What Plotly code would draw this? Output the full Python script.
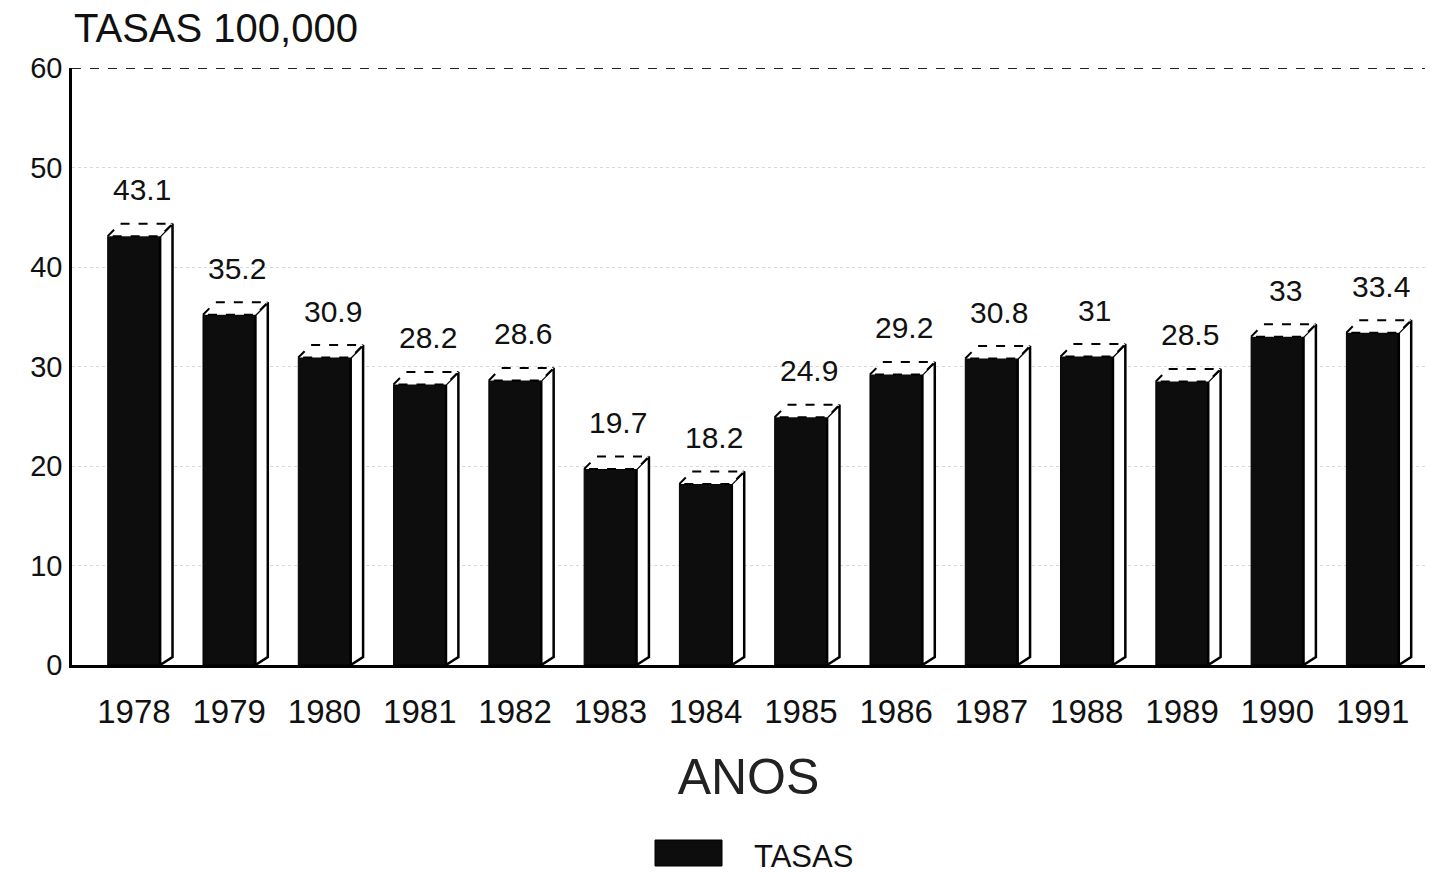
import plotly.graph_objects as go

# Tasas por 100,000 habitantes, 1978-1991
years = ["1978", "1979", "1980", "1981", "1982", "1983", "1984",
         "1985", "1986", "1987", "1988", "1989", "1990", "1991"]
rates = [43.1, 35.2, 30.9, 28.2, 28.6, 19.7, 18.2,
         24.9, 29.2, 30.8, 31, 28.5, 33, 33.4]
y_ticks = [0, 10, 20, 30, 40, 50, 60]

FONT = "Liberation Sans, Arial, sans-serif"
BAR_W = 0.55      # front face width (category units)
DEPTH_X = 0.13    # 3D side-face depth, horizontal (category units)
DEPTH_Y = 1.25    # 3D side-face depth, vertical (value units)

xs = list(range(len(years)))

fig = go.Figure()

# front faces
fig.add_trace(go.Bar(
    x=xs, y=rates, width=BAR_W,
    marker=dict(color="#0d0d0d", line=dict(color="#000", width=1)),
    hoverinfo="skip", showlegend=False,
))

# white side and top faces that give the bars depth
for x, v in zip(xs, rates):
    xl, xr = x - BAR_W / 2, x + BAR_W / 2
    side_x = [xr, xr + DEPTH_X, xr + DEPTH_X, xr, xr]
    side_y = [0, 0.8, v + DEPTH_Y, v, 0]
    fig.add_trace(go.Scatter(
        x=side_x, y=side_y, mode="lines", fill="toself",
        fillcolor="white", line=dict(color="#000", width=2.5),
        hoverinfo="skip", showlegend=False,
    ))
    top_x = [xl, xl + DEPTH_X, xr + DEPTH_X, xr, xl]
    top_y = [v, v + DEPTH_Y, v + DEPTH_Y, v, v]
    fig.add_trace(go.Scatter(
        x=top_x, y=top_y, mode="lines", fill="toself",
        fillcolor="white", line=dict(color="#000", width=2, dash="dash"),
        hoverinfo="skip", showlegend=False,
    ))

# value labels above each bar
for x, v in zip(xs, rates):
    fig.add_annotation(
        x=x, y=v, text=f"{v:g}", showarrow=False,
        xshift=8, yshift=28, yanchor="bottom",
        font=dict(family=FONT, size=30, color="#111"),
    )

# dashed reference line at the top of the scale
fig.add_shape(type="line", xref="paper", x0=0, x1=1, yref="y", y0=60, y1=60,
              line=dict(color="#222", width=2, dash="dash"))

# chart title (units)
fig.add_annotation(
    xref="paper", yref="paper", x=0, y=1, xanchor="left", yanchor="bottom",
    yshift=16, text="TASAS 100,000", showarrow=False,
    font=dict(family=FONT, size=40, color="#111"),
)

# legend
fig.add_shape(type="rect", xref="paper", yref="paper",
              x0=(655 - 72) / 1353, x1=(722 - 72) / 1353,
              y0=-(840 - 665) / 597, y1=-(866 - 665) / 597,
              fillcolor="#0d0d0d", line=dict(color="#000", width=1))
fig.add_annotation(
    xref="paper", yref="paper", x=(752 - 72) / 1353, y=-(856 - 665) / 597,
    xanchor="left", yanchor="middle", text="TASAS", showarrow=False,
    font=dict(family=FONT, size=31, color="#111"),
)

fig.update_layout(
    width=1432, height=873,
    margin=dict(l=72, r=7, t=68, b=208),
    paper_bgcolor="white", plot_bgcolor="white",
    font=dict(family=FONT, color="#111"),
    bargap=0.4,
    xaxis=dict(
        tickmode="array", tickvals=xs, ticktext=years,
        range=[-0.65, 13.55],
        tickfont=dict(family=FONT, size=33, color="#111"),
        showline=True, linecolor="#000", linewidth=2.5,
        showgrid=False, zeroline=False, ticks="",
        ticklabelstandoff=16,
        title=dict(text="ANOS", standoff=30,
                   font=dict(family=FONT, size=50, color="#222")),
    ),
    yaxis=dict(
        range=[0, 60], tickmode="array", tickvals=y_ticks,
        tickfont=dict(family=FONT, size=29, color="#111"),
        showline=True, linecolor="#000", linewidth=2.5,
        showgrid=True, gridcolor="#d8d8d8", griddash="dot", gridwidth=1,
        zeroline=False, ticks="", ticklabelstandoff=1,
    ),
)

fig.write_html("out.html")
